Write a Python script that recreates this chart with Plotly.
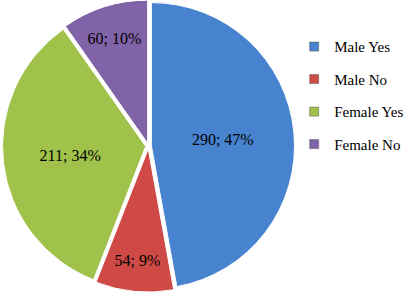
import plotly.graph_objects as go

categories = ["Male Yes", "Male No", "Female Yes", "Female No"]
counts = [290, 54, 211, 60]
colors = ["#4783cf", "#cf4a46", "#a0c24a", "#8163a8"]

fig = go.Figure()
fig.add_trace(go.Pie(
    labels=categories,
    values=counts,
    sort=False,
    direction="clockwise",
    rotation=0,
    pull=[0.02, 0.02, 0.02, 0.02],
    marker=dict(colors=colors, line=dict(color="white", width=1)),
    texttemplate="%{value}; %{percent:.0%}",
    textposition="inside",
    insidetextorientation="horizontal",
    textfont=dict(family="Liberation Serif", size=16, color="black"),
    domain=dict(x=[0, 0.721], y=[0.02, 1]),
    showlegend=False,
    hoverinfo="label+value+percent",
))

for name, col in zip(categories, colors):
    fig.add_trace(go.Scatter(
        x=[None], y=[None], mode="markers", name=name,
        legendgroup=name,
        marker=dict(symbol="square", size=9, color=col,
                    line=dict(color="#555555", width=0.5)),
    ))

fig.update_layout(
    width=412, height=298,
    margin=dict(l=0, r=0, t=0, b=0),
    paper_bgcolor="white", plot_bgcolor="white",
    xaxis=dict(visible=False), yaxis=dict(visible=False),
    legend=dict(x=0.714, y=0.68, xanchor="left", yanchor="middle",
                font=dict(family="Liberation Serif", size=15, color="black"),
                tracegroupgap=10, itemwidth=30, bgcolor="rgba(0,0,0,0)"),
    font=dict(family="Liberation Serif"),
)

fig.write_html(
    "out.html",
    config={"displayModeBar": False},
    post_script="document.body.style.margin='0';document.body.style.overflow='hidden';",
)
